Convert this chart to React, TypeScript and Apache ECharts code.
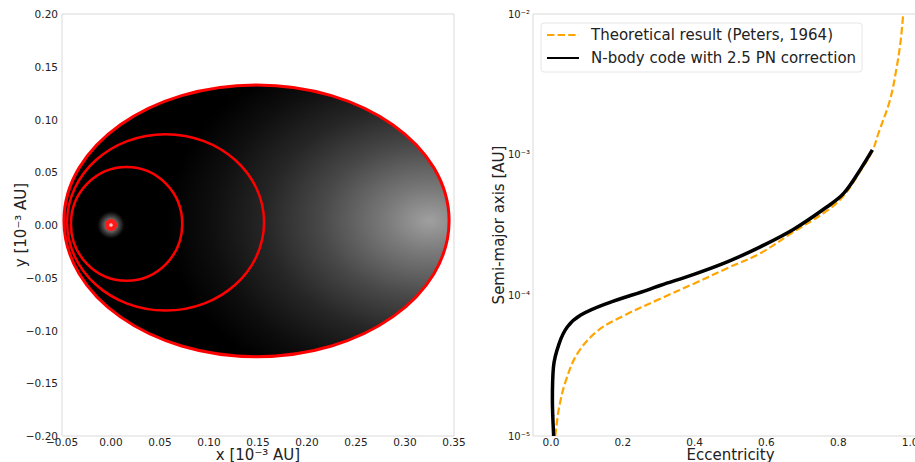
import React, { useEffect, useRef } from "react";
import * as echarts from "echarts";

// ---- Left panel: orbits (units of 1e-3 AU) ----
const orbitCx = [0.1485, 0.0557, 0.0159];
const orbitCy = [0.004, 0.0025, 0.001];
const orbitRx = [0.1965, 0.1005, 0.0568];
const orbitRy = [0.1288, 0.0836, 0.0539];
const coreRadius = 0.0062;
const haloRadius = 0.015;

// ---- Right panel: semi-major axis vs eccentricity ----
const theoryE = [0.012, 0.023, 0.042, 0.074, 0.13, 0.204, 0.306, 0.398, 0.491, 0.583, 0.676, 0.769, 0.815, 0.861, 0.895, 0.912, 0.944, 0.963, 0.974, 0.981];
const theoryA = [1.0e-5, 1.61e-5, 2.5e-5, 3.87e-5, 5.6e-5, 7.2e-5, 9.5e-5, 1.21e-4, 1.56e-4, 1.99e-4, 2.83e-4, 4.0e-4, 5.1e-4, 7.6e-4, 1.06e-3, 1.42e-3, 2.44e-3, 4.2e-3, 6.5e-3, 1.0e-2];
const nbodyE = [0.0075, 0.005, 0.004, 0.007, 0.023, 0.046, 0.083, 0.157, 0.268, 0.306, 0.398, 0.491, 0.583, 0.676, 0.769, 0.815, 0.861, 0.895];
const nbodyA = [1.0e-5, 1.4e-5, 1.8e-5, 3.1e-5, 4.56e-5, 5.98e-5, 7.24e-5, 8.77e-5, 1.09e-4, 1.18e-4, 1.41e-4, 1.73e-4, 2.21e-4, 2.95e-4, 4.26e-4, 5.3e-4, 7.8e-4, 1.08e-3];

const legendNames = ["Theoretical result (Peters, 1964)", "N-body code with 2.5 PN correction"];

const FONT = "DejaVu Sans";
const TXT = "#222";

const fmt2 = (v: number) => {
  if (Math.abs(v) < 1e-9) return "0.00";
  return (v < 0 ? "\u2212" : "") + Math.abs(v).toFixed(2);
};
const SUP: Record<string, string> = { "-": "\u207b", "0": "\u2070", "1": "\u00b9", "2": "\u00b2", "3": "\u00b3", "4": "\u2074", "5": "\u2075", "6": "\u2076", "7": "\u2077", "8": "\u2078", "9": "\u2079" };
const sup = (n: number) => String(n).split("").map((c) => SUP[c] || c).join("");

export default function App() {
  const ref = useRef<HTMLDivElement>(null);
  useEffect(() => {
    if (!ref.current) return;
    const chart = echarts.init(ref.current, undefined, { renderer: "svg" });

    const orbitData = orbitCx.map((cx, i) => [cx, orbitCy[i], orbitRx[i], orbitRy[i]]);

    const option: any = {
      animation: false,
      backgroundColor: "#fff",
      textStyle: { fontFamily: FONT },
      grid: [
        { left: 62, top: 14, width: 392, height: 422, show: true, borderColor: "#d9d9d9", borderWidth: 1, backgroundColor: "transparent", outerBoundsMode: "none", containLabel: false },
        { left: 533, top: 14, width: 395, height: 422, show: true, borderColor: "#d9d9d9", borderWidth: 1, backgroundColor: "transparent", outerBoundsMode: "none", containLabel: false },
      ],
      legend: {
        orient: "vertical",
        left: 541,
        top: 23,
        padding: [3, 6, 5, 5],
        itemWidth: 32,
        itemHeight: 14,
        itemGap: 5,
        backgroundColor: "rgba(255,255,255,0.8)",
        borderColor: "#e6e6e6",
        borderWidth: 1,
        borderRadius: 3,
        data: legendNames,
        itemStyle: { opacity: 0 },
        textStyle: { fontFamily: FONT, fontSize: 15, color: TXT, lineHeight: 18, padding: [0, 0, 0, 7] },
      },
      xAxis: [
        {
          type: "value", gridIndex: 0, min: -0.05, max: 0.35, interval: 0.05,
          axisLine: { show: false }, axisTick: { show: false }, splitLine: { show: false },
          axisLabel: { formatter: fmt2, fontSize: 10.5, lineHeight: 10, color: TXT, margin: 1, fontFamily: FONT, showMinLabel: true, showMaxLabel: true },
          name: "x [10\u207b\u00b3 AU]", nameLocation: "middle", nameGap: 11, nameMoveOverlap: false,
          nameTextStyle: { fontSize: 15, lineHeight: 15, color: TXT, fontFamily: FONT },
        },
        {
          type: "value", gridIndex: 1, min: -0.05, max: 1.05, interval: 0.05,
          axisLine: { show: false }, axisTick: { show: false }, splitLine: { show: false },
          axisLabel: {
            formatter: (v: number) => {
              const k = v / 0.2;
              if (Math.abs(k - Math.round(k)) < 1e-6 && v > -1e-9 && v < 1.0001) return Math.abs(v) < 1e-9 ? "0.0" : v.toFixed(1);
              return "";
            },
            fontSize: 10.5, lineHeight: 10, color: TXT, margin: 1, fontFamily: FONT,
          },
          name: "Eccentricity", nameLocation: "middle", nameGap: 11, nameMoveOverlap: false,
          nameTextStyle: { fontSize: 15, lineHeight: 15, color: TXT, fontFamily: FONT },
        },
      ],
      yAxis: [
        {
          type: "value", gridIndex: 0, min: -0.2, max: 0.2, interval: 0.05,
          axisLine: { show: false }, axisTick: { show: false }, splitLine: { show: false },
          axisLabel: { formatter: fmt2, fontSize: 10.5, color: TXT, margin: 4, fontFamily: FONT, showMinLabel: true, showMaxLabel: true },
          name: "y [10\u207b\u00b3 AU]", nameLocation: "middle", nameGap: 34, nameMoveOverlap: false,
          nameTextStyle: { fontSize: 15, color: TXT, fontFamily: FONT },
        },
        {
          type: "log", logBase: 10, gridIndex: 1, min: 1e-5, max: 1e-2,
          axisLine: { show: false }, axisTick: { show: false }, splitLine: { show: false }, minorTick: { show: false },
          axisLabel: {
            formatter: (v: number) => "10" + sup(Math.round(Math.log10(v))),
            fontSize: 10, color: TXT, margin: 3, fontFamily: FONT,
          },
          name: "Semi-major axis [AU]", nameLocation: "middle", nameGap: 27, nameMoveOverlap: false,
          nameTextStyle: { fontSize: 15, color: TXT, fontFamily: FONT },
        },
      ],
      series: [
        {
          type: "custom",
          name: "orbitFill",
          xAxisIndex: 0, yAxisIndex: 0,
          data: [orbitData[0]],
          encode: { x: 0, y: 1 },
          silent: true,
          renderItem: (params: any, api: any) => {
            const c = api.coord([api.value(0), api.value(1)]);
            const s = api.size([api.value(2), api.value(3)]);
            return {
              type: "ellipse",
              shape: { cx: c[0], cy: c[1], rx: s[0], ry: s[1] },
              style: {
                fill: new echarts.graphic.RadialGradient(0.95, 0.5, 0.95, [
                  { offset: 0, color: "#a0a0a0" },
                  { offset: 0.12, color: "#7a7a7a" },
                  { offset: 0.3, color: "#484848" },
                  { offset: 0.45, color: "#262626" },
                  { offset: 0.6, color: "#0e0e0e" },
                  { offset: 0.72, color: "#000000" },
                  { offset: 1, color: "#000000" },
                ]),
              },
            };
          },
        },
        {
          type: "custom",
          name: "orbits",
          xAxisIndex: 0, yAxisIndex: 0,
          data: orbitData,
          encode: { x: 0, y: 1 },
          silent: true,
          renderItem: (params: any, api: any) => {
            const c = api.coord([api.value(0), api.value(1)]);
            const s = api.size([api.value(2), api.value(3)]);
            return {
              type: "ellipse",
              shape: { cx: c[0], cy: c[1], rx: s[0], ry: s[1] },
              style: { fill: "none", stroke: "#ff0000", lineWidth: params.dataIndex === 0 ? 3 : 2.5 },
            };
          },
        },
        {
          type: "custom",
          name: "core",
          xAxisIndex: 0, yAxisIndex: 0,
          data: [[0, 0, haloRadius, coreRadius]],
          encode: { x: 0, y: 1 },
          silent: true,
          renderItem: (params: any, api: any) => {
            const c = api.coord([api.value(0), api.value(1)]);
            const h = api.size([api.value(2), api.value(2)])[0];
            const r = api.size([api.value(3), api.value(3)])[0];
            return {
              type: "group",
              children: [
                {
                  type: "circle",
                  shape: { cx: c[0], cy: c[1], r: h },
                  style: {
                    fill: new echarts.graphic.RadialGradient(0.5, 0.5, 0.5, [
                      { offset: 0, color: "rgba(255,255,255,0.7)" },
                      { offset: 0.45, color: "rgba(210,210,210,0.45)" },
                      { offset: 0.75, color: "rgba(130,130,130,0.25)" },
                      { offset: 1, color: "rgba(0,0,0,0)" },
                    ]),
                  },
                },
                { type: "circle", shape: { cx: c[0], cy: c[1], r: r }, style: { fill: "#ff1a1a" } },
                { type: "circle", shape: { cx: c[0], cy: c[1], r: r * 0.3 }, style: { fill: "#ffc0c0" } },
              ],
            };
          },
        },
        {
          type: "line",
          name: legendNames[0],
          xAxisIndex: 1, yAxisIndex: 1,
          data: theoryE.map((e, i) => [e, theoryA[i]]),
          symbol: "none",
          smooth: 0.35,
          lineStyle: { color: "#ffa500", width: 2.2, type: [7.4, 3.2] },
          itemStyle: { color: "#ffa500" },
        },
        {
          type: "line",
          name: legendNames[1],
          xAxisIndex: 1, yAxisIndex: 1,
          data: nbodyE.map((e, i) => [e, nbodyA[i]]),
          symbol: "none",
          smooth: 0.35,
          lineStyle: { color: "#000000", width: 3.5 },
          itemStyle: { color: "#000000" },
        },
      ],
    };
    chart.setOption(option);
    return () => chart.dispose();
  }, []);
  return <div ref={ref} style={{ position: "fixed", left: 0, top: 0, width: 915, height: 462 }} />;
}
